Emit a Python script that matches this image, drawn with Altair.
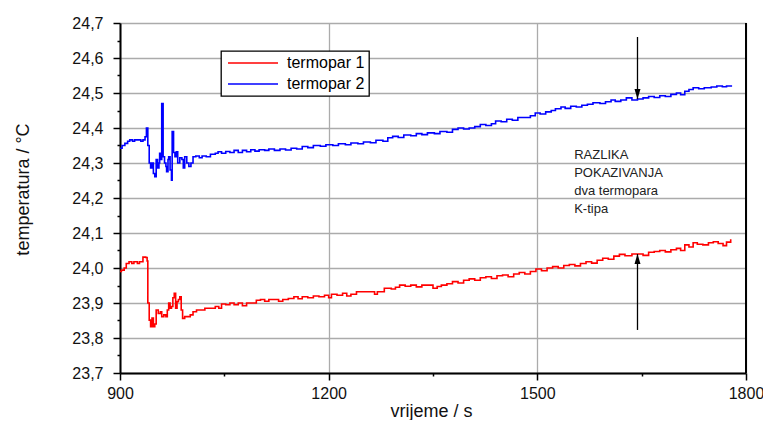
import altair as alt
import pandas as pd

# termopar 1 (red)
t1 = [900, 902, 906, 909, 913, 917, 920, 925, 928, 931, 933, 937, 939, 940, 942, 944, 946, 948, 950, 952,
      955, 958, 960, 963, 966, 968, 970, 972, 974, 976, 978, 980, 982, 984, 986, 988, 990, 993, 997, 1001,
      1005, 1010, 1016, 1022, 1030, 1037, 1042, 1046, 1052, 1058, 1064, 1070, 1076, 1082, 1090, 1096, 1102,
      1108, 1114, 1122, 1128, 1134, 1142, 1150, 1156, 1162, 1170, 1178, 1186, 1194, 1200, 1204, 1212, 1220,
      1226, 1232, 1240, 1250, 1260, 1266, 1270, 1280, 1290, 1296, 1302, 1310, 1318, 1326, 1334, 1346, 1350,
      1356, 1362, 1370, 1378, 1386, 1394, 1402, 1410, 1418, 1426, 1434, 1442, 1450, 1458, 1466, 1474, 1482,
      1490, 1498, 1506, 1514, 1522, 1530, 1538, 1546, 1554, 1562, 1570, 1578, 1586, 1594, 1602, 1610, 1618,
      1626, 1636, 1644, 1652, 1660, 1668, 1676, 1684, 1692, 1700, 1706, 1712, 1718, 1724, 1730, 1738, 1746,
      1753, 1760, 1767, 1772, 1778]
v1 = [23.990, 23.994, 24.000, 24.013, 24.018, 24.013, 24.018, 24.013, 24.018, 24.018, 24.031, 24.030, 24.020,
      23.900, 23.851, 23.832, 23.857, 23.832, 23.840, 23.880, 23.870, 23.875, 23.861, 23.866, 23.861, 23.880,
      23.900, 23.885, 23.890, 23.915, 23.928, 23.885, 23.904, 23.910, 23.918, 23.880, 23.856, 23.861, 23.861,
      23.866, 23.875, 23.880, 23.880, 23.885, 23.885, 23.890, 23.885, 23.897, 23.895, 23.900, 23.895, 23.900,
      23.892, 23.900, 23.900, 23.908, 23.910, 23.905, 23.910, 23.910, 23.905, 23.910, 23.913, 23.918, 23.912,
      23.918, 23.915, 23.920, 23.918, 23.922, 23.915, 23.925, 23.922, 23.928, 23.920, 23.925, 23.932, 23.932,
      23.932, 23.925, 23.932, 23.942, 23.940, 23.945, 23.951, 23.948, 23.951, 23.946, 23.951, 23.951, 23.942,
      23.947, 23.951, 23.955, 23.961, 23.957, 23.965, 23.969, 23.965, 23.972, 23.975, 23.970, 23.978, 23.980,
      23.975, 23.983, 23.987, 23.983, 23.990, 23.997, 23.992, 24.000, 24.004, 24.000, 24.007, 24.010, 24.006,
      24.013, 24.018, 24.014, 24.022, 24.028, 24.025, 24.034, 24.039, 24.035, 24.040, 24.040, 24.036, 24.045,
      24.047, 24.050, 24.046, 24.052, 24.056, 24.050, 24.066, 24.060, 24.072, 24.068, 24.066, 24.072, 24.075,
      24.070, 24.064, 24.074, 24.082]

# termopar 2 (blue)
t2 = [900, 903, 907, 911, 914, 918, 921, 926, 930, 933, 936, 938, 940, 942, 944, 946, 948, 950, 952, 954,
      956, 957, 959, 960, 962, 964, 966, 967, 969, 970, 972, 974, 975, 977, 979, 981, 983, 986, 989, 991,
      993, 996, 999, 1002, 1005, 1009, 1014, 1018, 1024, 1030, 1037, 1041, 1046, 1052, 1058, 1064, 1070,
      1076, 1082, 1088, 1094, 1100, 1108, 1114, 1122, 1130, 1138, 1146, 1154, 1162, 1170, 1178, 1188, 1196,
      1206, 1214, 1224, 1232, 1242, 1250, 1260, 1268, 1278, 1285, 1292, 1300, 1308, 1318, 1326, 1334, 1342,
      1352, 1360, 1370, 1378, 1386, 1394, 1402, 1410, 1418, 1426, 1434, 1440, 1448, 1456, 1464, 1472, 1482,
      1490, 1497, 1504, 1512, 1520, 1526, 1534, 1540, 1548, 1556, 1564, 1572, 1580, 1590, 1598, 1606, 1612,
      1620, 1628, 1636, 1644, 1652, 1660, 1668, 1676, 1684, 1692, 1700, 1706, 1712, 1718, 1724, 1732, 1740,
      1750, 1758, 1766, 1772, 1780]
v2 = [24.342, 24.350, 24.356, 24.362, 24.366, 24.362, 24.366, 24.366, 24.362, 24.366, 24.375, 24.400, 24.350,
      24.300, 24.286, 24.300, 24.270, 24.261, 24.310, 24.286, 24.300, 24.328, 24.310, 24.470, 24.318, 24.300,
      24.290, 24.275, 24.310, 24.318, 24.280, 24.251, 24.390, 24.330, 24.318, 24.332, 24.300, 24.315, 24.310,
      24.286, 24.318, 24.300, 24.290, 24.300, 24.318, 24.320, 24.315, 24.320, 24.318, 24.325, 24.328, 24.332,
      24.328, 24.333, 24.330, 24.336, 24.330, 24.336, 24.332, 24.338, 24.334, 24.338, 24.336, 24.340, 24.336,
      24.340, 24.337, 24.342, 24.340, 24.347, 24.344, 24.350, 24.348, 24.352, 24.350, 24.355, 24.352, 24.357,
      24.355, 24.360, 24.358, 24.365, 24.362, 24.372, 24.376, 24.373, 24.380, 24.378, 24.384, 24.381, 24.386,
      24.384, 24.390, 24.388, 24.396, 24.400, 24.397, 24.400, 24.404, 24.410, 24.407, 24.412, 24.420, 24.418,
      24.425, 24.422, 24.430, 24.430, 24.435, 24.443, 24.440, 24.446, 24.450, 24.455, 24.460, 24.456, 24.462,
      24.460, 24.465, 24.468, 24.472, 24.470, 24.475, 24.480, 24.476, 24.480, 24.486, 24.480, 24.483, 24.486,
      24.490, 24.487, 24.492, 24.490, 24.496, 24.500, 24.495, 24.505, 24.510, 24.515, 24.512, 24.515, 24.517,
      24.520, 24.518, 24.520, 24.520]

series_names = ["termopar 1", "termopar 2"]
series_colors = ["#ff0000", "#0000ff"]

x_ticks = [900, 1050, 1200, 1350, 1500, 1650, 1800]
y_ticks = [23.70, 23.75, 23.80, 23.85, 23.90, 23.95, 24.00, 24.05, 24.10, 24.15, 24.20,
           24.25, 24.30, 24.35, 24.40, 24.45, 24.50, 24.55, 24.60, 24.65, 24.70]

note_lines = ["RAZLIKA", "POKAZIVANJA", "dva termopara", "K-tipa"]
note_x = 1553
note_y = [24.311, 24.260, 24.209, 24.157]

arrow_x = 1644
arrow_down = (24.660, 24.483)   # start, tip
arrow_up = (23.823, 24.040)     # start, tip

FONT = "Liberation Sans"

df = pd.concat([
    pd.DataFrame({"vrijeme": t1, "temperatura": v1, "serie": series_names[0]}),
    pd.DataFrame({"vrijeme": t2, "temperatura": v2, "serie": series_names[1]}),
], ignore_index=True)

xscale = alt.Scale(domain=[900, 1800], nice=False, zero=False)
yscale = alt.Scale(domain=[23.7, 24.7], nice=False, zero=False)

x_major = "datum.value % 300 === 0"
y_major = "round(datum.value * 100) % 10 === 0"

x_axis = alt.Axis(
    values=x_ticks, format="d", title="vrijeme / s",
    labelExpr=f"{x_major} ? datum.label : ''",
    tickSize={"condition": {"test": x_major, "value": 7}, "value": 3},
    gridOpacity={"condition": {"test": x_major, "value": 1}, "value": 0},
    labelOverlap=False, labelFlush=False, labelPadding=5,
    titleX=311, titleY=43, titleBaseline="alphabetic",
)
y_axis = alt.Axis(
    values=y_ticks, title="temperatura / °C",
    labelExpr=f"{y_major} ? replace(format(datum.value, '.1f'), '.', ',') : ''",
    tickSize={"condition": {"test": y_major, "value": 7}, "value": 3},
    gridOpacity={"condition": {"test": y_major, "value": 1}, "value": 0},
    labelOverlap=False, labelPadding=10,
    titleX=-92, titleY=166, titleBaseline="alphabetic",
)

X = alt.X("vrijeme:Q", scale=xscale, axis=x_axis)
Y = alt.Y("temperatura:Q", scale=yscale, axis=y_axis)

lines = alt.Chart(df).mark_line(interpolate="step-after", strokeWidth=1.6).encode(
    x=X, y=Y,
    color=alt.Color(
        "serie:N",
        scale=alt.Scale(domain=series_names, range=series_colors),
        legend=alt.Legend(
            title=None, orient="none", legendX=101, legendY=28,
            symbolType="M-1,0H9", symbolSize=100, symbolStrokeWidth=1.6,
            labelFontSize=16, labelFont=FONT, labelOffset=46, labelColor="black",
            strokeColor="black", fillColor="white", padding=4, rowPadding=5,
        ),
    ),
)

right_border = alt.Chart(pd.DataFrame({"vrijeme": [1800]})).mark_rule(
    color="black", strokeWidth=2
).encode(x=X)

arrows_df = pd.DataFrame({
    "vrijeme": [arrow_x, arrow_x],
    "temperatura": [arrow_down[0], arrow_up[0]],
    "kraj": [arrow_down[1], arrow_up[1]],
})
arrow_lines = alt.Chart(arrows_df).mark_rule(color="black", strokeWidth=1.3).encode(
    x=X, y=Y, y2="kraj:Q"
)
head_down = alt.Chart(pd.DataFrame({"vrijeme": [arrow_x], "temperatura": [arrow_down[1]]})).mark_point(
    shape="M0,0L-0.3,-1L0.3,-1Z", size=400, filled=True, color="black", opacity=1
).encode(x=X, y=Y)
head_up = alt.Chart(pd.DataFrame({"vrijeme": [arrow_x], "temperatura": [arrow_up[1]]})).mark_point(
    shape="M0,0L-0.3,1L0.3,1Z", size=400, filled=True, color="black", opacity=1
).encode(x=X, y=Y)

note = alt.Chart(pd.DataFrame({"vrijeme": [note_x] * 4, "temperatura": note_y, "txt": note_lines})).mark_text(
    align="left", baseline="alphabetic", fontSize=13, font=FONT, color="#222222"
).encode(x=X, y=Y, text="txt:N")

chart = alt.layer(lines, right_border, arrow_lines, head_down, head_up, note).properties(
    width=626, height=350,
    autosize=alt.AutoSizeParams(type="none"),
    padding={"left": 112, "top": 15, "right": 17, "bottom": 47},
).configure(font=FONT).configure_view(stroke=None).configure_axis(
    domainColor="black", domainWidth=2, tickColor="black", tickWidth=1.5,
    gridColor="#ababab", gridWidth=1.3,
    labelFont=FONT, labelFontSize=16, labelColor="#111111",
    titleFont=FONT, titleFontSize=18, titleFontWeight="normal", titleColor="#111111",
).configure_legend(strokeWidth=1.3)

chart.save("out.html", embed_options={"renderer": "svg", "actions": False})
